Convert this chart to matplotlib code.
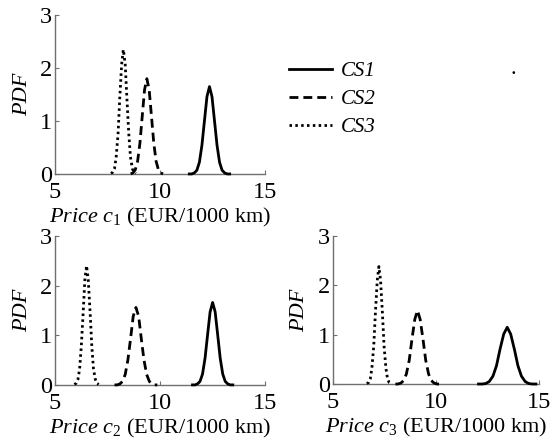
import matplotlib
matplotlib.use("Agg")
import matplotlib.pyplot as plt
from matplotlib.lines import Line2D

# --- values (PDF curves, per price component) ---
# price c1
c1_cs1_x = [11.39, 11.51, 11.63, 11.75, 11.87, 11.99, 12.11, 12.23, 12.35,
            12.47, 12.59, 12.71, 12.83, 12.95, 13.07, 13.19, 13.31]
c1_cs1_y = [0.00, 0.00, 0.02, 0.07, 0.22, 0.54, 1.00, 1.46, 1.65,
            1.46, 1.00, 0.54, 0.22, 0.07, 0.02, 0.00, 0.00]
c1_cs2_x = [8.60, 8.71, 8.82, 8.93, 9.04, 9.15, 9.26, 9.37,
            9.48, 9.59, 9.70, 9.81, 9.92, 10.03, 10.14]
c1_cs2_y = [0.00, 0.02, 0.08, 0.24, 0.58, 1.09, 1.59, 1.80,
            1.59, 1.09, 0.58, 0.24, 0.08, 0.02, 0.00]
c1_cs3_x = [7.66, 7.74, 7.83, 7.91, 8.00, 8.08, 8.17, 8.25,
            8.34, 8.42, 8.51, 8.59, 8.68, 8.76, 8.85]
c1_cs3_y = [0.01, 0.03, 0.10, 0.32, 0.76, 1.43, 2.07, 2.35,
            2.07, 1.43, 0.76, 0.32, 0.10, 0.03, 0.01]

# price c2
c2_cs1_x = [11.54, 11.66, 11.78, 11.90, 12.02, 12.14, 12.26, 12.38, 12.50,
            12.62, 12.74, 12.86, 12.98, 13.10, 13.22, 13.34, 13.46]
c2_cs1_y = [0.00, 0.00, 0.02, 0.07, 0.22, 0.54, 1.01, 1.47, 1.66,
            1.47, 1.01, 0.54, 0.22, 0.07, 0.02, 0.00, 0.00]
c2_cs2_x = [7.83, 7.96, 8.09, 8.21, 8.34, 8.47, 8.60, 8.72, 8.85,
            8.98, 9.10, 9.23, 9.36, 9.49, 9.61, 9.74, 9.87]
c2_cs2_y = [0.00, 0.00, 0.02, 0.07, 0.21, 0.51, 0.95, 1.38, 1.56,
            1.38, 0.95, 0.51, 0.21, 0.07, 0.02, 0.00, 0.00]
c2_cs3_x = [5.92, 6.00, 6.09, 6.17, 6.25, 6.34, 6.42, 6.50,
            6.58, 6.67, 6.75, 6.83, 6.92, 7.00, 7.08]
c2_cs3_y = [0.01, 0.03, 0.11, 0.32, 0.78, 1.46, 2.12, 2.40,
            2.12, 1.46, 0.78, 0.32, 0.11, 0.03, 0.01]

# price c3
c3_cs1_x = [12.06, 12.24, 12.41, 12.58, 12.76, 12.93, 13.10, 13.28, 13.45,
            13.62, 13.80, 13.97, 14.14, 14.32, 14.49, 14.66, 14.84]
c3_cs1_y = [0.00, 0.00, 0.01, 0.05, 0.16, 0.37, 0.70, 1.01, 1.15,
            1.01, 0.70, 0.37, 0.16, 0.05, 0.01, 0.00, 0.00]
c3_cs2_x = [8.03, 8.16, 8.30, 8.43, 8.56, 8.70, 8.83, 8.97, 9.10,
            9.23, 9.37, 9.50, 9.64, 9.77, 9.90, 10.04, 10.17]
c3_cs2_y = [0.00, 0.00, 0.02, 0.07, 0.20, 0.48, 0.90, 1.31, 1.49,
            1.31, 0.90, 0.48, 0.20, 0.07, 0.02, 0.00, 0.00]
c3_cs3_x = [6.64, 6.73, 6.81, 6.89, 6.98, 7.06, 7.15, 7.23,
            7.31, 7.40, 7.48, 7.57, 7.65, 7.73, 7.82]
c3_cs3_y = [0.01, 0.03, 0.10, 0.32, 0.77, 1.44, 2.10, 2.38,
            2.10, 1.44, 0.77, 0.32, 0.10, 0.03, 0.01]

series_names = ["CS1", "CS2", "CS3"]
x_ticks = [5, 10, 15]
y_ticks = [0, 1, 2, 3]

plt.rcParams["font.family"] = "Liberation Serif"
plt.rcParams["mathtext.fontset"] = "custom"
plt.rcParams["mathtext.rm"] = "Liberation Serif"
plt.rcParams["mathtext.it"] = "Liberation Serif:italic"

FS = 16        # axis labels
FS_TICK = 17.5 # tick numbers are a bit bigger in the original
FS_LEG = 15
LW = 2.0
styles = [
    dict(linestyle="-"),
    dict(linestyle=(0, (3.2, 1.8))),
    dict(linestyle=(0, (0.9, 1.2))),
]

fig = plt.figure(figsize=(5.53, 4.46), dpi=100)

# axes boxes (left, bottom, width, height) in figure fractions
ax1 = fig.add_axes([0.0995, 0.610, 0.380, 0.356])
ax2 = fig.add_axes([0.0995, 0.137, 0.380, 0.334])
ax3 = fig.add_axes([0.602, 0.139, 0.373, 0.332])

panels = [
    (ax1, [(c1_cs1_x, c1_cs1_y), (c1_cs2_x, c1_cs2_y), (c1_cs3_x, c1_cs3_y)], "1"),
    (ax2, [(c2_cs1_x, c2_cs1_y), (c2_cs2_x, c2_cs2_y), (c2_cs3_x, c2_cs3_y)], "2"),
    (ax3, [(c3_cs1_x, c3_cs1_y), (c3_cs2_x, c3_cs2_y), (c3_cs3_x, c3_cs3_y)], "3"),
]

for ax, curves, idx in panels:
    for (xs, ys), st in zip(curves, styles):
        ax.plot(xs, ys, color="black", linewidth=LW, clip_on=False, zorder=3, **st)
    ax.set_xlim(5, 15)
    ax.set_ylim(0, 3)
    ax.set_xticks(x_ticks)
    ax.set_yticks(y_ticks)
    for side in ("top", "right"):
        ax.spines[side].set_visible(False)
    for side in ("left", "bottom"):
        ax.spines[side].set_color("#707070")
        ax.spines[side].set_linewidth(1.0)
    ax.tick_params(direction="in", length=3, width=0.8, color="#707070",
                   labelsize=FS_TICK)
    ax.tick_params(axis="x", pad=6)
    ax.tick_params(axis="y", pad=2)
    ax.set_ylabel("PDF", fontsize=FS, fontstyle="italic", labelpad=6)
    ax.set_xlabel(r"$\mathit{Price}\ c_{%s}$ (EUR/1000 km)" % idx,
                  fontsize=FS, labelpad=2)

handles = [Line2D([], [], color="black", linewidth=LW, **st) for st in styles]
fig.legend(handles, series_names, loc="upper left",
           bbox_to_anchor=(0.522, 0.862), frameon=False,
           prop={"family": "Liberation Serif", "style": "italic", "size": FS_LEG},
           handlelength=2.1, handletextpad=0.4, labelspacing=0.4,
           borderaxespad=0, borderpad=0)

fig.text(0.928, 0.834, ".", fontsize=FS, ha="center", va="baseline")

fig.savefig("out.png", dpi=100)
